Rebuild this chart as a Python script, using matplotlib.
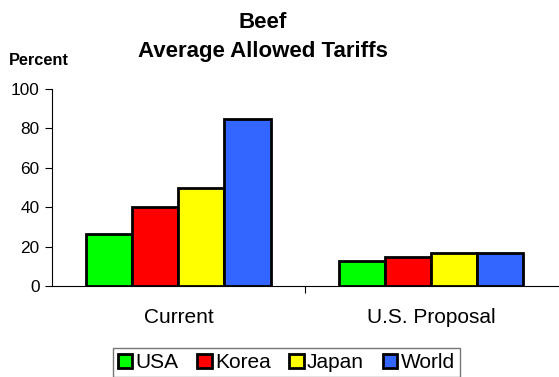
import matplotlib
matplotlib.use("Agg")
import matplotlib.pyplot as plt
import numpy as np

plt.rcParams["font.family"] = ["Liberation Sans", "DejaVu Sans"]

categories = ["Current", "U.S. Proposal"]
countries = ["USA", "Korea", "Japan", "World"]
values = {
    "USA": [26.5, 12.5],
    "Korea": [40, 15],
    "Japan": [50, 17],
    "World": [85, 17],
}
colors = ["#00FF00", "#FF0000", "#FFFF00", "#3366FF"]

fig = plt.figure(figsize=(5.59, 3.77), dpi=100)
ax = fig.add_axes([0.093, 0.241, 0.905, 0.523])

x = np.arange(len(categories))
width = 0.182
for i, (name, color) in enumerate(zip(countries, colors)):
    offs = (i - 1.5) * width
    ax.bar(x + offs, values[name], width, color=color, edgecolor="black",
           linewidth=2, label=name, zorder=3)

ax.set_xlim(-0.5, 1.5)
ax.set_ylim(0, 100)
ax.set_yticks([0, 20, 40, 60, 80, 100])
ax.tick_params(axis="y", labelsize=12.4, length=5, direction="out", pad=4)
ax.set_xticks([0.5])
ax.set_xticklabels([""])
ax.tick_params(axis="x", length=5, direction="out")
for i, c in enumerate(categories):
    ax.text(i, -0.157, c, ha="center", va="center", fontsize=15,
            transform=ax.get_xaxis_transform())

for s in ["top", "right"]:
    ax.spines[s].set_visible(False)

fig.text(0.47, 1 - 23 / 377, "Beef", ha="center", va="center",
         fontsize=16, fontweight="bold")
fig.text(0.47, 1 - 51 / 377, "Average Allowed Tariffs", ha="center", va="center",
         fontsize=16, fontweight="bold")
fig.text(0.016, 0.84, "Percent", ha="left", va="center", fontsize=11.8,
         fontweight="bold")

leg = fig.legend(loc="upper center", bbox_to_anchor=(0.512, 0.077), ncol=4,
                 fontsize=15, frameon=True, fancybox=False, handlelength=0.7,
                 handleheight=0.7, handletextpad=0.15, columnspacing=0.9,
                 borderpad=0.25, borderaxespad=0)
leg.get_frame().set_edgecolor("#555555")
leg.get_frame().set_linewidth(1)

fig.savefig("out.png", dpi=100)
